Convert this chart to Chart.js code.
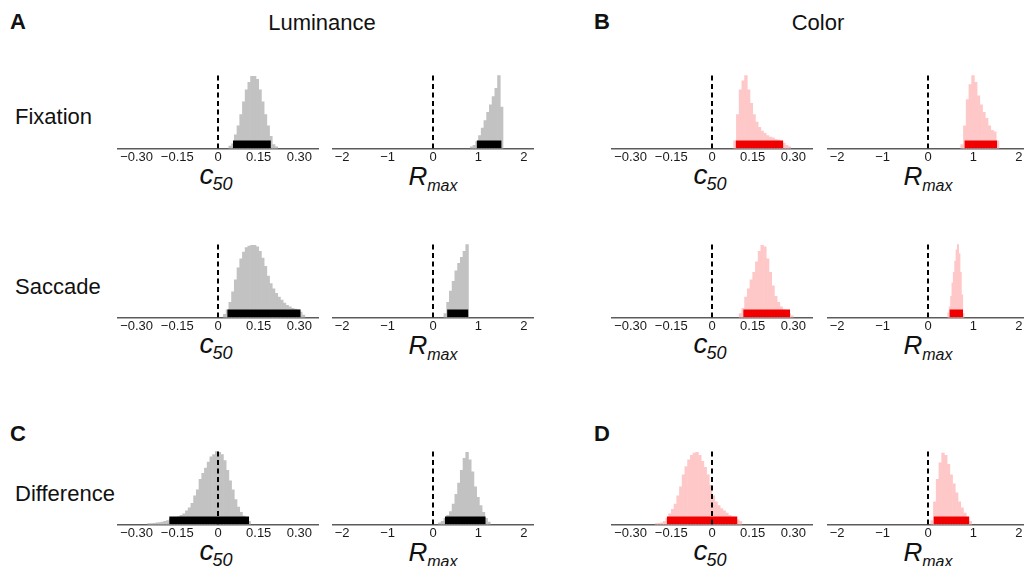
<!DOCTYPE html>
<html><head><meta charset="utf-8">
<script src="https://cdn.jsdelivr.net/npm/chart.js@4.4.1/dist/chart.umd.min.js"></script>
<style>
html,body{margin:0;padding:0;background:#fff;width:1024px;height:566px;overflow:hidden;}
body{position:relative;font-family:"Liberation Sans",Arial,sans-serif;color:#111;}
.t{position:absolute;white-space:nowrap;line-height:1;}
.ttl{position:absolute;width:120px;text-align:center;white-space:nowrap;line-height:1;font-size:26px;font-style:italic;}
.ttl span{position:relative;top:6px;font-size:16px;}
.ttl.c{font-size:28px;}
.ttl.c span{font-size:18px;margin-left:-1px;}
.panel{position:absolute;}
</style></head><body>
<div class="t" style="left:10px;top:11px;font-size:22px;font-weight:bold">A</div>
<div class="t" style="left:594px;top:11px;font-size:22px;font-weight:bold">B</div>
<div class="t" style="left:10px;top:423px;font-size:22px;font-weight:bold">C</div>
<div class="t" style="left:594px;top:423px;font-size:22px;font-weight:bold">D</div>
<div class="t" style="left:222px;width:200px;text-align:center;top:12px;font-size:22px">Luminance</div>
<div class="t" style="left:718px;width:200px;text-align:center;top:12px;font-size:22px">Color</div>
<div class="t" style="left:15px;top:106px;font-size:22px">Fixation</div>
<div class="t" style="left:15px;top:276px;font-size:22px">Saccade</div>
<div class="t" style="left:15px;top:483px;font-size:22px">Difference</div>

<div class="ttl c" style="left:156px;top:161px">c<span>50</span></div>
<div class="ttl" style="left:373px;top:163px">R<span>max</span></div>
<div class="ttl c" style="left:650px;top:161px">c<span>50</span></div>
<div class="ttl" style="left:868px;top:163px">R<span>max</span></div>
<div class="ttl c" style="left:156px;top:330px">c<span>50</span></div>
<div class="ttl" style="left:373px;top:332px">R<span>max</span></div>
<div class="ttl c" style="left:650px;top:330px">c<span>50</span></div>
<div class="ttl" style="left:868px;top:332px">R<span>max</span></div>
<div class="ttl c" style="left:156px;top:537px">c<span>50</span></div>
<div class="ttl" style="left:373px;top:539px">R<span>max</span></div>
<div class="ttl c" style="left:650px;top:537px">c<span>50</span></div>
<div class="ttl" style="left:868px;top:539px">R<span>max</span></div>

<script>
// ---------- tick labels ----------
const c50TickValues = [-0.30, -0.15, 0, 0.15, 0.30];
const c50TickLabels = ['\u22120.30', '\u22120.15', '0', '0.15', '0.30'];
const rmaxTickValues = [-2, -1, 0, 1, 2];
const rmaxTickLabels = ['\u22122', '\u22121', '0', '1', '2'];
const c50Limit = 0.3686;
const rmaxLimit = 2.2;

// ---------- Luminance, Fixation ----------
const lumFixC50Bins = [0.045,0.055,0.065,0.075,0.085,0.095,0.105,0.115,0.125,0.135,0.145,0.155,0.165,0.175,0.185,0.195,0.205,0.215];
const lumFixC50Freq = [0.03,0.06,0.18,0.30,0.45,0.62,0.78,0.88,0.96,0.96,0.92,0.78,0.62,0.45,0.30,0.16,0.05,0.02];
const lumFixC50CI = [0.055, 0.195];
const lumFixRmaxBins = [0.85,0.91,0.97,1.03,1.09,1.15,1.21,1.27,1.33,1.39,1.45,1.51];
const lumFixRmaxFreq = [0.02,0.04,0.09,0.17,0.27,0.37,0.48,0.58,0.69,0.80,0.97,0.55];
const lumFixRmaxCI = [0.96, 1.51];

// ---------- Color, Fixation ----------
const colFixC50Bins = [0.085,0.095,0.105,0.115,0.125,0.135,0.145,0.155,0.165,0.175,0.185,0.195,0.205,0.215,0.225,0.235,0.245,0.255,0.265,0.275,0.285];
const colFixC50Freq = [0.10,0.45,0.78,0.90,0.97,0.78,0.60,0.45,0.35,0.28,0.23,0.20,0.17,0.15,0.14,0.12,0.11,0.09,0.07,0.04,0.02];
const colFixC50CI = [0.087, 0.263];
const colFixRmaxBins = [0.75,0.81,0.87,0.93,0.99,1.05,1.11,1.17,1.23,1.29,1.35,1.41,1.47,1.53];
const colFixRmaxFreq = [0.05,0.30,0.65,0.85,0.97,0.88,0.70,0.58,0.48,0.40,0.30,0.24,0.22,0.10];
const colFixRmaxCI = [0.80, 1.52];

// ---------- Luminance, Saccade ----------
const lumSacC50Bins = [0.025,0.035,0.045,0.055,0.065,0.075,0.085,0.095,0.105,0.115,0.125,0.135,0.145,0.155,0.165,0.175,0.185,0.195,0.205,0.215,0.225,0.235,0.245,0.255,0.265,0.275,0.285,0.295,0.305,0.315];
const lumSacC50Freq = [0.04,0.10,0.20,0.34,0.50,0.66,0.78,0.87,0.93,0.95,0.96,0.96,0.94,0.88,0.79,0.68,0.55,0.45,0.38,0.32,0.27,0.23,0.19,0.16,0.14,0.12,0.11,0.10,0.07,0.03];
const lumSacC50CI = [0.034, 0.305];
const lumSacRmaxBins = [0.27,0.33,0.39,0.45,0.51,0.57,0.63,0.69,0.75];
const lumSacRmaxFreq = [0.05,0.20,0.35,0.48,0.62,0.72,0.80,0.88,0.97];
const lumSacRmaxCI = [0.31, 0.78];

// ---------- Color, Saccade ----------
const colSacC50Bins = [0.105,0.115,0.125,0.135,0.145,0.155,0.165,0.175,0.185,0.195,0.205,0.215,0.225,0.235,0.245,0.255,0.265,0.275,0.285,0.295];
const colSacC50Freq = [0.05,0.12,0.27,0.38,0.50,0.60,0.74,0.88,0.96,0.94,0.78,0.60,0.42,0.28,0.20,0.14,0.10,0.08,0.05,0.02];
const colSacC50CI = [0.115, 0.288];
const colSacRmaxBins = [0.45,0.48,0.51,0.54,0.57,0.60,0.63,0.66,0.69,0.72,0.75,0.78];
const colSacRmaxFreq = [0.06,0.14,0.28,0.46,0.60,0.75,0.90,0.97,0.85,0.60,0.30,0.05];
const colSacRmaxCI = [0.47, 0.77];

// ---------- Luminance, Difference ----------
const lumDiffC50Bins = [-0.255,-0.245,-0.235,-0.225,-0.215,-0.205,-0.195,-0.185,-0.175,-0.165,-0.155,-0.145,-0.135,-0.125,-0.115,-0.105,-0.095,-0.085,-0.075,-0.065,-0.055,-0.045,-0.035,-0.025,-0.015,-0.005,0.005,0.015,0.025,0.035,0.045,0.055,0.065,0.075,0.085,0.095,0.105,0.115];
const lumDiffC50Freq = [0.01,0.01,0.015,0.02,0.025,0.03,0.04,0.05,0.07,0.08,0.09,0.10,0.12,0.14,0.18,0.22,0.28,0.38,0.46,0.60,0.68,0.75,0.83,0.90,0.93,0.97,0.96,0.93,0.85,0.72,0.58,0.46,0.33,0.23,0.16,0.11,0.07,0.04];
const lumDiffC50CI = [-0.18, 0.115];
const lumDiffRmaxBins = [0.15,0.21,0.27,0.33,0.39,0.45,0.51,0.57,0.63,0.69,0.75,0.81,0.87,0.93,0.99,1.05,1.11,1.17,1.23];
const lumDiffRmaxFreq = [0.02,0.04,0.08,0.12,0.17,0.27,0.40,0.55,0.72,0.88,0.96,0.86,0.70,0.50,0.36,0.25,0.16,0.08,0.03];
const lumDiffRmaxCI = [0.26, 1.16];

// ---------- Color, Difference ----------
const colDiffC50Bins = [-0.205,-0.195,-0.185,-0.175,-0.165,-0.155,-0.145,-0.135,-0.125,-0.115,-0.105,-0.095,-0.085,-0.075,-0.065,-0.055,-0.045,-0.035,-0.025,-0.015,-0.005,0.005,0.015,0.025,0.035,0.045,0.055,0.065,0.075,0.085,0.095,0.105];
const colDiffC50Freq = [0.01,0.015,0.02,0.04,0.08,0.14,0.20,0.27,0.38,0.50,0.66,0.77,0.86,0.92,0.95,0.96,0.92,0.84,0.76,0.66,0.52,0.38,0.30,0.25,0.21,0.18,0.15,0.12,0.10,0.08,0.06,0.04];
const colDiffC50CI = [-0.167, 0.094];
const colDiffRmaxBins = [0.09,0.15,0.21,0.27,0.33,0.39,0.45,0.51,0.57,0.63,0.69,0.75,0.81,0.87,0.93];
const colDiffRmaxFreq = [0.05,0.30,0.60,0.82,0.95,0.92,0.80,0.66,0.54,0.42,0.30,0.22,0.15,0.09,0.04];
const colDiffRmaxCI = [0.12, 0.91];

// ---------- layout / style ----------
const axisStartX = [118, 333, 612, 828];
const axisY = [148, 317, 524];
const PLOT_W = 200, PLOT_H = 75, PAD = 20;
const CI_H = 0.107;
const GRAY = '#c2c2c2', PINK = '#ffc8c8', BLACK = '#000000', RED = '#f00000';

function makePanel(col, row, kind, bins, freq, ci, fillColor, ciColor) {
  const wrap = document.createElement('div');
  wrap.className = 'panel';
  const cv = document.createElement('canvas');
  cv.width = PLOT_W + 2 * PAD; cv.height = 115;
  cv.style.width = cv.width + 'px'; cv.style.height = cv.height + 'px';
  wrap.appendChild(cv);
  document.body.appendChild(wrap);
  const tv = kind === 'c50' ? c50TickValues : rmaxTickValues;
  const tl = kind === 'c50' ? c50TickLabels : rmaxTickLabels;
  const lim = kind === 'c50' ? c50Limit : rmaxLimit;
  const chart = new Chart(cv, {
    type: 'bar',
    data: { datasets: [
      { type: 'line', data: [{x: 0, y: 0}, {x: 0, y: 1}], borderColor: '#000', borderWidth: 2,
        borderDash: [5, 3.5], pointRadius: 0, fill: false, order: 0 },
      { type: 'line', data: [{x: ci[0], y: CI_H}, {x: ci[1], y: CI_H}], borderColor: 'rgba(0,0,0,0)',
        borderWidth: 0, backgroundColor: ciColor, fill: 'origin', pointRadius: 0, order: 1 },
      { type: 'bar', data: bins.map((b, i) => ({x: b, y: freq[i]})), backgroundColor: fillColor,
        borderWidth: 0, barPercentage: 1, categoryPercentage: 1, grouped: false, order: 2 }
    ]},
    options: {
      responsive: false, animation: false, events: [],
      layout: { padding: { left: PAD, right: PAD, top: 15, bottom: 0 } },
      plugins: { legend: { display: false }, tooltip: { enabled: false } },
      scales: {
        x: { type: 'linear', min: -lim, max: lim, offset: false,
          grid: { display: true, drawOnChartArea: false, drawTicks: false, color: 'rgba(0,0,0,0)' },
          border: { display: true, color: '#5c5c5c', width: 1.5 },
          afterBuildTicks: s => { s.ticks = tv.map(v => ({ value: v })); },
          ticks: { padding: 1, color: '#1a1a1a', autoSkip: false, maxRotation: 0,
            font: { family: '"Liberation Sans", Arial, sans-serif', size: 13 },
            callback: (v, i) => tl[i] } },
        y: { display: false, min: 0, max: 1 }
      }
    }
  });
  const ca = chart.chartArea;
  chart.options.layout.padding.top = 15 + ((ca.bottom - ca.top) - PLOT_H);
  chart.update();
  const ca2 = chart.chartArea;
  wrap.style.left = (axisStartX[col] - ca2.left) + 'px';
  wrap.style.top = (axisY[row] - ca2.bottom) + 'px';
  return chart;
}

makePanel(0, 0, 'c50', lumFixC50Bins, lumFixC50Freq, lumFixC50CI, GRAY, BLACK);
makePanel(1, 0, 'rmax', lumFixRmaxBins, lumFixRmaxFreq, lumFixRmaxCI, GRAY, BLACK);
makePanel(2, 0, 'c50', colFixC50Bins, colFixC50Freq, colFixC50CI, PINK, RED);
makePanel(3, 0, 'rmax', colFixRmaxBins, colFixRmaxFreq, colFixRmaxCI, PINK, RED);
makePanel(0, 1, 'c50', lumSacC50Bins, lumSacC50Freq, lumSacC50CI, GRAY, BLACK);
makePanel(1, 1, 'rmax', lumSacRmaxBins, lumSacRmaxFreq, lumSacRmaxCI, GRAY, BLACK);
makePanel(2, 1, 'c50', colSacC50Bins, colSacC50Freq, colSacC50CI, PINK, RED);
makePanel(3, 1, 'rmax', colSacRmaxBins, colSacRmaxFreq, colSacRmaxCI, PINK, RED);
makePanel(0, 2, 'c50', lumDiffC50Bins, lumDiffC50Freq, lumDiffC50CI, GRAY, BLACK);
makePanel(1, 2, 'rmax', lumDiffRmaxBins, lumDiffRmaxFreq, lumDiffRmaxCI, GRAY, BLACK);
makePanel(2, 2, 'c50', colDiffC50Bins, colDiffC50Freq, colDiffC50CI, PINK, RED);
makePanel(3, 2, 'rmax', colDiffRmaxBins, colDiffRmaxFreq, colDiffRmaxCI, PINK, RED);
</script>
</body></html>
